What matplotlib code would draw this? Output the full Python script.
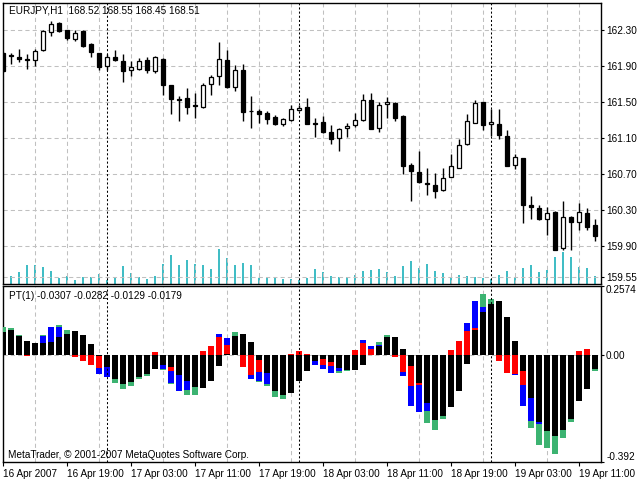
import numpy as np
import matplotlib
matplotlib.use("Agg")
import matplotlib.pyplot as plt

plt.rcParams['font.family'] = ['Liberation Sans', 'DejaVu Sans']

# --- EURJPY H1 candles (16 Apr 2007 11:00 ... 19 Apr 13:00) ---
opens = [162.04, 162.02, 162.00, 161.98, 161.97, 162.08, 162.28, 162.38, 162.30, 162.20,
         162.29, 162.14, 162.04, 161.90, 162.00, 161.96, 161.86, 161.87, 161.97, 161.84,
         161.98, 161.69, 161.53, 161.54, 161.465, 161.44, 161.70, 161.79, 161.97, 161.67,
         161.85, 161.40, 161.40, 161.38, 161.33, 161.26, 161.30, 161.41, 161.44, 161.27,
         161.28, 161.17, 161.10, 161.21, 161.24, 161.30, 161.52, 161.21, 161.48, 161.49,
         161.34, 160.80, 160.72, 160.60, 160.58, 160.52, 160.67, 160.77, 161.03, 161.27,
         161.50, 161.26, 161.26, 161.12, 160.80, 160.88, 160.36, 160.32, 160.20, 160.28,
         159.88, 160.22, 160.17, 160.27, 160.13]
highs = [162.06, 162.04, 162.09, 162.03, 162.09, 162.30, 162.40, 162.39, 162.30, 162.30,
         162.30, 162.15, 162.04, 162.03, 162.08, 162.03, 161.95, 161.99, 162.00, 162.01,
         161.99, 161.69, 161.57, 161.65, 161.60, 161.71, 161.80, 162.17, 162.08, 161.91,
         161.92, 161.57, 161.42, 161.40, 161.36, 161.32, 161.47, 161.47, 161.54, 161.32,
         161.34, 161.24, 161.21, 161.27, 161.38, 161.59, 161.60, 161.50, 161.56, 161.50,
         161.36, 160.82, 160.95, 160.77, 160.71, 160.77, 160.92, 161.09, 161.37, 161.52,
         161.50, 161.42, 161.42, 161.19, 160.92, 160.88, 160.45, 160.35, 160.33, 160.29,
         160.40, 160.23, 160.38, 160.32, 160.20]
lows = [161.83, 161.92, 161.94, 161.87, 161.90, 162.07, 162.23, 162.28, 162.19, 162.18,
        162.11, 162.00, 161.86, 161.86, 161.95, 161.72, 161.79, 161.86, 161.82, 161.82,
        161.58, 161.37, 161.29, 161.37, 161.32, 161.43, 161.58, 161.69, 161.66, 161.62,
        161.29, 161.21, 161.27, 161.26, 161.24, 161.23, 161.29, 161.40, 161.25, 161.11,
        161.16, 161.03, 160.96, 161.11, 161.22, 161.29, 161.20, 161.17, 161.32, 161.29,
        160.70, 160.40, 160.60, 160.47, 160.43, 160.51, 160.67, 160.77, 161.02, 161.27,
        161.19, 161.12, 161.09, 160.79, 160.76, 160.15, 160.20, 160.19, 160.02, 159.86,
        159.86, 159.85, 160.08, 160.08, 159.95]
closes = [161.84, 162.01, 161.98, 161.97, 162.07, 162.29, 162.37, 162.29, 162.21, 162.27,
          162.12, 162.05, 161.89, 162.00, 161.97, 161.84, 161.89, 161.96, 161.85, 162.00,
          161.69, 161.53, 161.52, 161.44, 161.46, 161.69, 161.78, 161.98, 161.67, 161.86,
          161.39, 161.40, 161.37, 161.31, 161.26, 161.31, 161.42, 161.43, 161.26, 161.26,
          161.17, 161.09, 161.20, 161.23, 161.30, 161.52, 161.20, 161.47, 161.50, 161.32,
          160.79, 160.73, 160.61, 160.59, 160.51, 160.66, 160.79, 161.02, 161.29, 161.49,
          161.24, 161.28, 161.13, 160.79, 160.89, 160.36, 160.33, 160.20, 160.27, 159.86,
          160.22, 160.17, 160.28, 160.11, 160.01]
volumes = [210, 77, 117, 187, 187, 167, 127, 57, 77, 37, 67, 67, 97, 37, 57, 177, 107, 67, 47, 77,
           197, 287, 187, 237, 197, 187, 147, 347, 257, 187, 207, 187, 57, 67, 67, 47, 47, 37, 57, 147,
           117, 77, 67, 67, 87, 127, 137, 147, 117, 77, 177, 227, 157, 197, 127, 107, 67, 87, 77, 67,
           57, 47, 87, 127, 67, 157, 187, 117, 137, 270, 317, 267, 167, 157, 77]

# --- PT(1) indicator buffers ---
pt_black = [0.085, 0.092, 0.070, 0.054, 0.044, 0.046, 0.048, 0.066, 0.080, 0.091,
            0.076, 0.042, -0.002, -0.044, -0.087, -0.106, -0.100, -0.079, -0.069, -0.049,
            -0.037, -0.044, -0.074, -0.093, -0.118, -0.120, -0.096, -0.041, 0.006, 0.070,
            0.080, 0.049, -0.016, -0.065, -0.130, -0.148, -0.139, -0.093, -0.059, -0.020,
            -0.012, -0.025, -0.047, -0.053, -0.053, -0.034, 0.003, 0.033, 0.066, 0.068,
            0.025, -0.038, -0.102, -0.176, -0.237, -0.225, -0.192, -0.133, -0.031, 0.095,
            0.160, 0.191, 0.199, 0.143, 0.054, -0.057, -0.157, -0.244, -0.278, -0.299,
            -0.274, -0.234, -0.167, -0.123, -0.049]
pt_red = [0, 0, 0, -0.004, 0, 0, 0.050, 0, 0, -0.007,
          -0.022, -0.034, -0.047, 0, 0, 0, 0, 0, 0, 0.011,
          0, -0.056, 0, 0, 0, 0.015, 0.036, 0.066, 0.039, 0,
          -0.044, -0.074, -0.062, 0, 0, 0, 0.005, 0.017, 0.006, 0,
          -0.034, -0.039, 0, 0, 0.018, 0.046, 0.022, 0, 0, -0.007,
          -0.062, -0.114, -0.108, 0, 0, 0, 0.018, 0.054, 0.091, 0.101,
          0, 0, -0.022, -0.066, -0.069, -0.108, 0, 0, 0, 0,
          0, 0, 0.017, 0.025, 0]
pt_blue = [0, 0, 0, 0, 0, 0.070, 0.103, 0.103, 0, 0,
           0, 0, -0.070, -0.078, 0, 0, 0, 0, 0, 0,
           -0.049, -0.103, -0.130, -0.127, 0, 0, 0, 0.080, 0.064, 0,
           0, -0.086, -0.096, -0.106, 0, 0, 0, 0, 0, -0.035,
           -0.049, -0.065, -0.057, 0, 0, 0.058, 0.033, 0.039, 0, 0,
           -0.077, -0.185, -0.207, -0.204, 0, 0, 0, 0, 0.120, 0.202,
           0.177, 0, 0, 0, -0.071, -0.185, -0.241, -0.252, 0, 0,
           0, 0, 0, 0, 0]
pt_green = [0.103, 0.100, 0.076, 0, 0.047, 0.076, 0, 0.113, 0.095, 0,
            0, 0, 0, -0.081, -0.103, -0.123, -0.112, -0.086, -0.076, 0,
            -0.055, -0.106, -0.133, -0.145, -0.145, 0, 0, 0, 0, 0.085,
            0, 0, -0.098, -0.113, -0.155, -0.160, 0, 0, 0, 0,
            0, 0, -0.066, -0.057, 0, 0, 0, 0.049, 0.076, 0,
            0, 0, 0, -0.250, -0.274, -0.234, 0, 0, 0, 0,
            0.226, 0.209, 0, 0, 0, 0, -0.266, -0.330, -0.340, -0.364,
            -0.303, -0.244, 0, 0, -0.059]

date_labels = ["16 Apr 2007", "16 Apr 19:00", "17 Apr 03:00", "17 Apr 11:00", "17 Apr 19:00",
               "18 Apr 03:00", "18 Apr 11:00", "18 Apr 19:00", "19 Apr 03:00", "19 Apr 11:00"]
price_ticks = [162.30, 161.90, 161.50, 161.10, 160.70, 160.30, 159.90, 159.55]
day_breaks = [13, 37, 61]

x = np.arange(len(opens))
o = np.array(opens); c = np.array(closes)
grid_kw = dict(color="#c0c0c0", lw=0.75, ls=(0, (4, 3)))
sep_kw = dict(color="black", lw=0.75, ls=(0, (2, 2)))
FS = 7.2

fig = plt.figure(figsize=(6.4, 4.8), dpi=100)
W, H = 640.0, 480.0
ax = fig.add_axes([2.5 / W, 1 - 283.5 / H, 598 / W, 280.8 / H])
ax2 = fig.add_axes([2.5 / W, 1 - 461.7 / H, 598 / W, 176.2 / H])
xlim = (-0.5 / 8, 597.5 / 8)

# volumes on their own scale at the bottom of the price window
axv = ax.twinx()
axv.vlines(x, 0, volumes, color="#3cbcc4", lw=1.4)
axv.set_ylim(0, 2808)
axv.set_yticks([])
axv.set_zorder(1)
ax.set_zorder(2)
ax.patch.set_visible(False)

# candles
ax.vlines(x, lows, highs, color="black", lw=1.0, zorder=3)
up = c >= o
body = np.maximum(np.abs(c - o), 0.004)
ax.bar(x[up], body[up], bottom=o[up], width=0.6, color="white", edgecolor="black", lw=0.9, zorder=4)
ax.bar(x[~up], body[~up], bottom=c[~up], width=0.6, color="black", edgecolor="black", lw=0.9, zorder=4)

ax.set_xlim(*xlim)
ax.set_ylim(159.4833, 162.6033)
ax.set_xticks(np.arange(0, 75, 4))
ax.tick_params(axis="x", length=0, labelbottom=False)
ax.yaxis.tick_right()
ax.set_yticks(price_ticks)
ax.set_yticklabels([f"{p:.2f}" for p in price_ticks])
ax.tick_params(axis="y", length=2.5, width=0.8, pad=1.5, labelsize=FS)
ax.grid(True, **grid_kw)
ax.set_axisbelow(True)
for d in day_breaks:
    ax.axvline(d, zorder=2.5, **sep_kw)
for s in ax.spines.values():
    s.set_linewidth(1.0)
for s in axv.spines.values():
    s.set_visible(False)

ax.text(6.5 / 598, 1 - 8 / 280.8, "EURJPY,H1  168.52 168.55 168.45 168.51", transform=ax.transAxes,
        fontsize=FS, va="center", ha="left", zorder=6)

# PT(1) histogram, drawn as overlapping buffers
for vals, col in [(pt_green, "#3cb371"), (pt_blue, "#0000ff"), (pt_red, "#ff0000"), (pt_black, "black")]:
    ax2.bar(x, vals, width=0.86, color=col, lw=0, zorder=3)
ax2.axhline(0, zorder=1, **grid_kw)
ax2.set_xlim(*xlim)
ax2.set_ylim(-0.392, 0.2574)
ax2.set_xticks(np.arange(0, 75, 4), minor=True)
ax2.grid(True, which="minor", axis="x", **grid_kw)
ax2.set_axisbelow(True)
ax2.set_xticks(np.arange(0, 75, 8))
ax2.set_xticklabels(date_labels, ha="left")
ax2.tick_params(axis="x", which="major", length=3, width=0.8, pad=2, labelsize=FS)
ax2.tick_params(axis="x", which="minor", length=0)
ax2.yaxis.tick_right()
ax2.set_yticks([-0.392, 0.0, 0.2574])
ax2.set_yticklabels(["-0.392", "0.00", "0.2574"])
ax2.tick_params(axis="y", length=2.5, width=0.8, pad=1.5, labelsize=FS)
ticks = ax2.yaxis.get_major_ticks()
ticks[0].label2.set_va("bottom")
ticks[2].label2.set_va("top")
for d in day_breaks:
    ax2.axvline(d, zorder=4, **sep_kw)
for s in ax2.spines.values():
    s.set_linewidth(1.0)

ax2.text(6.5 / 598, 1 - 10.5 / 176.2, "PT(1) -0.0307 -0.0282 -0.0129 -0.0179", transform=ax2.transAxes,
         fontsize=FS, va="center", ha="left", zorder=6)
ax2.text(5 / 598, 6.7 / 176.2, "MetaTrader, \u00a9 2001-2007 MetaQuotes Software Corp.", transform=ax2.transAxes,
         fontsize=FS, va="center", ha="left", zorder=6)

fig.savefig("out.png", dpi=100)
